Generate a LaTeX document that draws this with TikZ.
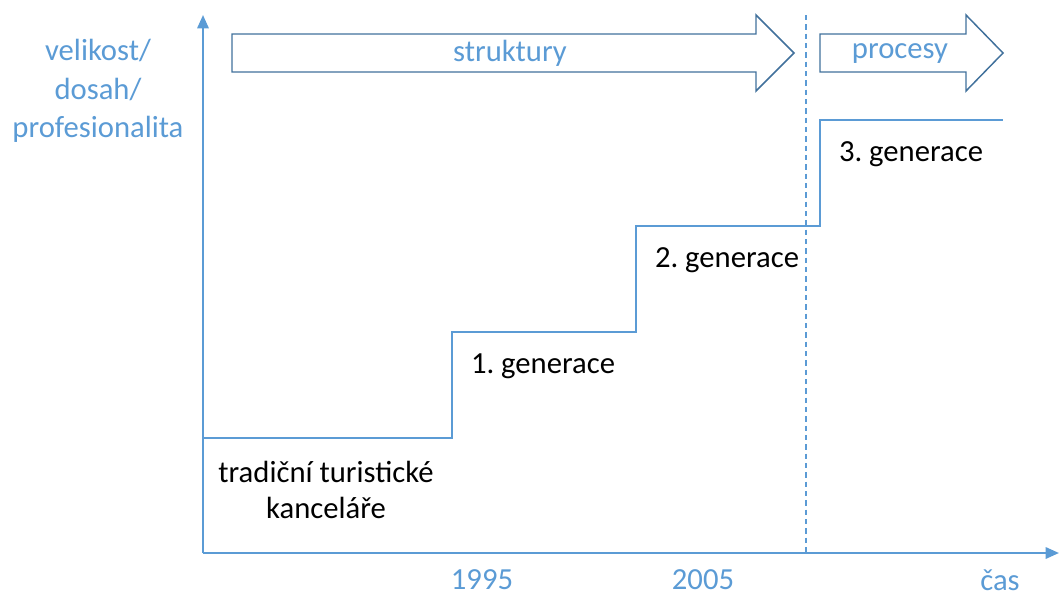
\documentclass[tikz,border=0pt]{standalone}
\usepackage{fontspec}
\setmainfont{Carlito}
\frenchspacing
\usetikzlibrary{arrows.meta}
\definecolor{axisblue}{HTML}{5B9BD5}
\definecolor{edgeblue}{HTML}{41719C}
\tikzset{
  axisline/.style={axisblue, line width=1.6pt, -{Triangle[length=10pt, width=8.5pt]}},
  stepline/.style={axisblue, line width=1.5pt, line join=miter},
  blockarrow/.style={edgeblue, line width=1.1pt, fill=white, line join=miter},
  divider/.style={axisblue, line width=1pt, dash pattern=on 4pt off 3pt},
  bluetext/.style={axisblue, font=\fontsize{23}{28}\selectfont, inner sep=0pt},
  blacktext/.style={black, font=\fontsize{23}{28}\selectfont, inner sep=0pt, align=center},
}
\begin{document}
\begin{tikzpicture}[x=0.75pt, y=-0.75pt]
  \useasboundingbox (0,0) rectangle (1059,597);

  % axes
  \coordinate (origin) at (203,553);
  \coordinate (ytop) at (203,15);
  \coordinate (xend) at (1059,553);
  \draw[axisline] (origin) -- (ytop);
  \draw[axisline] (origin) -- (xend);

  % boundary between the two eras
  \coordinate (divtop) at (806,15);
  \coordinate (divbottom) at (806,553);
  \draw[divider] (divtop) -- (divbottom);

  % generations as a staircase
  \draw[stepline] (203,438) -- (452,438) -- (452,332) -- (636,332)
    -- (636,226) -- (820,226) -- (820,120) -- (1003,120);

  % block arrows
  \draw[blockarrow] (232,34) -- (756,34) -- (756,15) -- (794,53)
    -- (756,91) -- (756,72) -- (232,72) -- cycle;
  \draw[blockarrow] (820,34) -- (966,34) -- (966,15) -- (1003,53)
    -- (966,91) -- (966,72) -- (820,72) -- cycle;
  \node[bluetext] (struktury) at (510,53) {struktury};
  \node[bluetext] (procesy) at (900,54) {procesy};

  % axis labels
  \node[bluetext, align=center, font=\fontsize{23}{29}\selectfont] (ylabel) at (98,91)
    {velikost/\\dosah/\\profesionalita};
  \node[bluetext] (y1995) at (482,580) {1995};
  \node[bluetext] (y2005) at (703,580) {2005};
  \node[bluetext] (cas) at (1000,580) {čas};

  % generation labels
  \node[blacktext, font=\fontsize{23}{27}\selectfont] (gen0) at (326,490)
    {tradiční turistické\\kanceláře};
  \node[blacktext] (gen1) at (543,366) {1. generace};
  \node[blacktext] (gen2) at (727,260) {2. generace};
  \node[blacktext] (gen3) at (911,154) {3. generace};
\end{tikzpicture}
\end{document}
